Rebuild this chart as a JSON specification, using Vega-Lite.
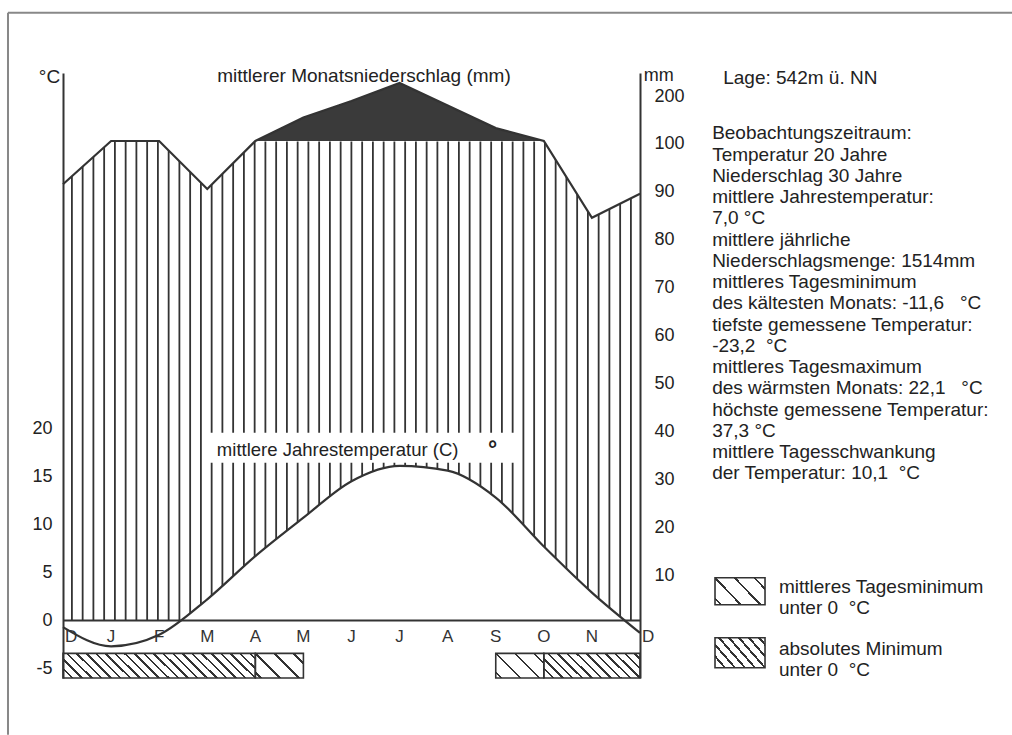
{
  "$schema": "https://vega.github.io/schema/vega-lite/v6.json",
  "width": 577,
  "height": 605,
  "autosize": {"type": "none"},
  "padding": {"left": 63, "top": 73, "right": 372, "bottom": 57},
  "background": "white",
  "config": {
    "view": {"stroke": null},
    "font": "Liberation Sans",
    "text": {"font": "Liberation Sans", "color": "#222", "fontSize": 19}
  },
  "datasets": {
    "klima": [
      {"m": 0, "mon": "D", "t": -0.7, "p": 91},
      {"m": 1, "mon": "J", "t": -2.7, "p": 100},
      {"m": 2, "mon": "F", "t": -1.5, "p": 100},
      {"m": 3, "mon": "M", "t": 2.2, "p": 90},
      {"m": 4, "mon": "A", "t": 6.7, "p": 100},
      {"m": 5, "mon": "M", "t": 10.7, "p": 151},
      {"m": 6, "mon": "J", "t": 14.5, "p": 187},
      {"m": 7, "mon": "J", "t": 16.1, "p": 226},
      {"m": 8, "mon": "A", "t": 15.6, "p": 177},
      {"m": 9, "mon": "S", "t": 12.8, "p": 128},
      {"m": 10, "mon": "O", "t": 7.7, "p": 100},
      {"m": 11, "mon": "N", "t": 2.9, "p": 84},
      {"m": 12, "mon": "D", "t": -1.3, "p": 89}
    ],
    "frostMonate": [
      {"von": 0, "bis": 1, "art": "absolut"},
      {"von": 1, "bis": 2, "art": "absolut"},
      {"von": 2, "bis": 3, "art": "absolut"},
      {"von": 3, "bis": 4, "art": "absolut"},
      {"von": 4, "bis": 5, "art": "mittel"},
      {"von": 9, "bis": 10, "art": "mittel"},
      {"von": 10, "bis": 11, "art": "absolut"},
      {"von": 11, "bis": 12, "art": "absolut"}
    ],
    "frostPerioden": [
      {"von": 0, "bis": 4, "art": "absolut"},
      {"von": 4, "bis": 5, "art": "mittel"},
      {"von": 9, "bis": 10, "art": "mittel"},
      {"von": 10, "bis": 12, "art": "absolut"}
    ]
  },
  "resolve": {"scale": {"y": "independent"}},
  "layer": [
    {
      "layer": [
        {
          "data": {"values": [{}]},
          "mark": {"type": "rule", "strokeWidth": 479, "strokeDash": [1.8, 8.95], "strokeDashOffset": 2.75, "color": "#333"},
          "encoding": {
            "x": {"datum": 0, "type": "quantitative", "scale": {"domain": [0, 12], "nice": false, "zero": false}, "axis": null},
            "x2": {"datum": 12},
            "y": {
              "datum": 24.95, "type": "quantitative",
              "scale": {"domain": [-6, 57.02], "nice": false, "zero": false},
              "axis": {"orient": "left", "values": [-5, 0, 5, 10, 15, 20], "labelExpr": "replace(datum.label, '\u2212', '-')", "ticks": false, "labelPadding": 11, "labelFontSize": 18, "labelColor": "#222", "labelFont": "Liberation Sans", "domainColor": "#333", "domainWidth": 2, "grid": false, "title": null, "zindex": 2, "labelFlush": false}
            }
          }
        },
        {
          "data": {"name": "klima"},
          "mark": {"type": "area", "color": "white", "interpolate": "monotone"},
          "encoding": {
            "x": {"field": "m", "type": "quantitative", "axis": null},
            "y": {"field": "t", "type": "quantitative"},
            "y2": {"datum": 0}
          }
        }
      ]
    },
    {
      "layer": [
        {
          "data": {"name": "klima"},
          "mark": {"type": "area", "color": "white"},
          "encoding": {
            "x": {"field": "m", "type": "quantitative", "axis": null},
            "y": {
              "field": "p", "type": "quantitative",
              "scale": {"domain": [-11.875, 100, 247.8], "range": [605, 68, 0], "nice": false, "zero": false},
              "axis": {"orient": "right", "values": [10, 20, 30, 40, 50, 60, 70, 80, 90, 100, 200], "ticks": false, "labelPadding": 14, "labelOffset": 2, "labelFontSize": 18, "labelColor": "#222", "labelFont": "Liberation Sans", "domainColor": "#333", "domainWidth": 2, "grid": false, "title": null, "zindex": 2, "labelFlush": false}
            },
            "y2": {"datum": 110}
          }
        },
        {
          "data": {"name": "klima"},
          "transform": [{"filter": "datum.m >= 4 && datum.m <= 10"}],
          "mark": {"type": "area", "color": "#3a3a3a"},
          "encoding": {
            "x": {"field": "m", "type": "quantitative", "axis": null},
            "y": {"field": "p", "type": "quantitative"},
            "y2": {"datum": 100}
          }
        },
        {
          "data": {"name": "klima"},
          "mark": {"type": "line", "color": "#333", "strokeWidth": 2.2},
          "encoding": {
            "x": {"field": "m", "type": "quantitative", "axis": null},
            "y": {"field": "p", "type": "quantitative"}
          }
        }
      ]
    },
    {
      "layer": [
        {
          "data": {"values": [{}]},
          "mark": {"type": "rect", "color": "white"},
          "encoding": {
            "x": {"datum": 3.0, "type": "quantitative", "axis": null},
            "x2": {"datum": 9.54},
            "y": {"datum": 19.54, "type": "quantitative", "scale": {"domain": [-6, 57.02], "nice": false, "zero": false}, "axis": null},
            "y2": {"datum": 16.42}
          }
        },
        {
          "data": {"values": [{}]},
          "mark": {"type": "text", "text": "mittlere Jahrestemperatur (C)", "align": "left", "baseline": "alphabetic", "fontSize": 18.5},
          "encoding": {
            "x": {"datum": 3.2, "type": "quantitative", "axis": null},
            "y": {"datum": 17.14, "type": "quantitative", "axis": null}
          }
        },
        {
          "data": {"values": [{}]},
          "mark": {"type": "text", "text": "°", "align": "left", "baseline": "alphabetic", "fontSize": 23, "fontWeight": "bold"},
          "encoding": {
            "x": {"datum": 8.84, "type": "quantitative", "axis": null},
            "y": {"datum": 17.0, "type": "quantitative", "axis": null}
          }
        },
        {
          "data": {"name": "klima"},
          "mark": {"type": "line", "color": "#333", "strokeWidth": 2.2, "interpolate": "monotone"},
          "encoding": {
            "x": {"field": "m", "type": "quantitative", "axis": null},
            "y": {"field": "t", "type": "quantitative", "axis": null}
          }
        },
        {
          "data": {"values": [{}]},
          "mark": {"type": "rule", "color": "#333", "strokeWidth": 2},
          "encoding": {
            "x": {"datum": 0, "type": "quantitative", "axis": null},
            "x2": {"datum": 12},
            "y": {"datum": 0, "type": "quantitative", "axis": null}
          }
        },
        {
          "data": {"name": "frostMonate"},
          "transform": [{"filter": "datum.art == 'absolut'"}],
          "mark": {
            "type": "rect",
            "fill": {
              "gradient": "linear", "x1": 0, "y1": 1, "x2": 1.1965, "y2": 0.3778,
              "stops": [
                {"offset": 0, "color": "#333"}, {"offset": 0.017, "color": "#333"}, {"offset": 0.017, "color": "#fff"},
                {"offset": 0.1146, "color": "#fff"}, {"offset": 0.1146, "color": "#333"}, {"offset": 0.1486, "color": "#333"}, {"offset": 0.1486, "color": "#fff"},
                {"offset": 0.2462, "color": "#fff"}, {"offset": 0.2462, "color": "#333"}, {"offset": 0.2802, "color": "#333"}, {"offset": 0.2802, "color": "#fff"},
                {"offset": 0.3777, "color": "#fff"}, {"offset": 0.3777, "color": "#333"}, {"offset": 0.4117, "color": "#333"}, {"offset": 0.4117, "color": "#fff"},
                {"offset": 0.5093, "color": "#fff"}, {"offset": 0.5093, "color": "#333"}, {"offset": 0.5433, "color": "#333"}, {"offset": 0.5433, "color": "#fff"},
                {"offset": 0.6409, "color": "#fff"}, {"offset": 0.6409, "color": "#333"}, {"offset": 0.6749, "color": "#333"}, {"offset": 0.6749, "color": "#fff"},
                {"offset": 0.7725, "color": "#fff"}, {"offset": 0.7725, "color": "#333"}, {"offset": 0.8065, "color": "#333"}, {"offset": 0.8065, "color": "#fff"},
                {"offset": 0.9041, "color": "#fff"}, {"offset": 0.9041, "color": "#333"}, {"offset": 0.9381, "color": "#333"}, {"offset": 0.9381, "color": "#fff"},
                {"offset": 1, "color": "#fff"}
              ]
            }
          },
          "encoding": {
            "x": {"field": "von", "type": "quantitative", "axis": null},
            "x2": {"field": "bis"},
            "y": {"datum": -6, "type": "quantitative", "axis": null},
            "y2": {"datum": -3.43}
          }
        },
        {
          "data": {"name": "frostMonate"},
          "transform": [{"filter": "datum.art == 'mittel'"}],
          "mark": {
            "type": "rect",
            "fill": {
              "gradient": "linear", "x1": 0, "y1": 1, "x2": 1.1965, "y2": 0.3778,
              "stops": [
                {"offset": 0, "color": "#fff"}, {"offset": 0.063, "color": "#fff"}, {"offset": 0.063, "color": "#333"}, {"offset": 0.097, "color": "#333"}, {"offset": 0.097, "color": "#fff"},
                {"offset": 0.323, "color": "#fff"}, {"offset": 0.323, "color": "#333"}, {"offset": 0.357, "color": "#333"}, {"offset": 0.357, "color": "#fff"},
                {"offset": 0.583, "color": "#fff"}, {"offset": 0.583, "color": "#333"}, {"offset": 0.617, "color": "#333"}, {"offset": 0.617, "color": "#fff"},
                {"offset": 0.843, "color": "#fff"}, {"offset": 0.843, "color": "#333"}, {"offset": 0.877, "color": "#333"}, {"offset": 0.877, "color": "#fff"},
                {"offset": 1, "color": "#fff"}
              ]
            }
          },
          "encoding": {
            "x": {"field": "von", "type": "quantitative", "axis": null},
            "x2": {"field": "bis"},
            "y": {"datum": -6, "type": "quantitative", "axis": null},
            "y2": {"datum": -3.43}
          }
        },
        {
          "data": {"name": "frostPerioden"},
          "mark": {"type": "rect", "filled": false, "stroke": "#333", "strokeWidth": 1.6},
          "encoding": {
            "x": {"field": "von", "type": "quantitative", "axis": null},
            "x2": {"field": "bis"},
            "y": {"datum": -6, "type": "quantitative", "axis": null},
            "y2": {"datum": -3.43}
          }
        },
        {
          "data": {"name": "klima"},
          "transform": [{"filter": "datum.m >= 1 && datum.m <= 11"}],
          "mark": {"type": "text", "align": "center", "baseline": "alphabetic", "fontSize": 17, "color": "#333"},
          "encoding": {
            "x": {"field": "m", "type": "quantitative", "axis": null},
            "y": {"datum": -2.23, "type": "quantitative", "axis": null},
            "text": {"field": "mon"}
          }
        },
        {
          "data": {"name": "klima"},
          "transform": [{"filter": "datum.m == 0 || datum.m == 12"}],
          "mark": {"type": "text", "align": "left", "baseline": "alphabetic", "fontSize": 17, "color": "#333", "dx": 2},
          "encoding": {
            "x": {"field": "m", "type": "quantitative", "axis": null},
            "y": {"datum": -2.23, "type": "quantitative", "axis": null},
            "text": {"field": "mon"}
          }
        },
        {
          "data": {"values": [{}]},
          "mark": {"type": "text", "text": "°C", "align": "right", "baseline": "alphabetic", "fontSize": 19},
          "encoding": {
            "x": {"datum": -0.06, "type": "quantitative", "axis": null},
            "y": {"datum": 56.0, "type": "quantitative", "axis": null}
          }
        },
        {
          "data": {"values": [{}]},
          "mark": {"type": "text", "text": "mittlerer Monatsniederschlag (mm)", "align": "center", "baseline": "alphabetic", "fontSize": 19},
          "encoding": {
            "x": {"datum": 6.26, "type": "quantitative", "axis": null},
            "y": {"datum": 56.1, "type": "quantitative", "axis": null}
          }
        },
        {
          "data": {"values": [{}]},
          "mark": {"type": "text", "text": "mm", "align": "left", "baseline": "alphabetic", "fontSize": 18},
          "encoding": {
            "x": {"datum": 12.08, "type": "quantitative", "axis": null},
            "y": {"datum": 56.2, "type": "quantitative", "axis": null}
          }
        },
        {
          "data": {"values": [{}]},
          "mark": {"type": "text", "text": "Lage: 542m ü. NN", "align": "left", "baseline": "alphabetic", "fontSize": 19},
          "encoding": {
            "x": {"datum": 13.73, "type": "quantitative", "axis": null},
            "y": {"datum": 55.9, "type": "quantitative", "axis": null}
          }
        },
        {
          "data": {"values": [{}]},
          "mark": {
            "type": "text", "align": "left", "baseline": "alphabetic", "fontSize": 19, "lineHeight": 21.25,
            "text": [
              "Beobachtungszeitraum:",
              "Temperatur 20 Jahre",
              "Niederschlag 30 Jahre",
              "mittlere Jahrestemperatur:",
              "7,0 °C",
              "mittlere jährliche",
              "Niederschlagsmenge: 1514mm",
              "mittleres Tagesminimum",
              "des kältesten Monats: -11,6\u00a0\u00a0\u00a0°C",
              "tiefste gemessene Temperatur:",
              "-23,2\u00a0\u00a0°C",
              "mittleres Tagesmaximum",
              "des wärmsten Monats: 22,1\u00a0\u00a0\u00a0°C",
              "höchste gemessene Temperatur:",
              "37,3 °C",
              "mittlere Tagesschwankung",
              "der Temperatur: 10,1\u00a0\u00a0°C"
            ]
          },
          "encoding": {
            "x": {"datum": 13.5, "type": "quantitative", "axis": null},
            "y": {"datum": 50.1, "type": "quantitative", "axis": null}
          }
        },
        {
          "data": {"values": [{}]},
          "mark": {
            "type": "rect", "stroke": "#333", "strokeWidth": 1.6,
            "fill": {
              "gradient": "linear", "x1": 0, "y1": 1, "x2": 1.1965, "y2": 0.3778,
              "stops": [
                {"offset": 0, "color": "#fff"}, {"offset": 0.063, "color": "#fff"}, {"offset": 0.063, "color": "#333"}, {"offset": 0.097, "color": "#333"}, {"offset": 0.097, "color": "#fff"},
                {"offset": 0.323, "color": "#fff"}, {"offset": 0.323, "color": "#333"}, {"offset": 0.357, "color": "#333"}, {"offset": 0.357, "color": "#fff"},
                {"offset": 0.583, "color": "#fff"}, {"offset": 0.583, "color": "#333"}, {"offset": 0.617, "color": "#333"}, {"offset": 0.617, "color": "#fff"},
                {"offset": 0.843, "color": "#fff"}, {"offset": 0.843, "color": "#333"}, {"offset": 0.877, "color": "#333"}, {"offset": 0.877, "color": "#fff"},
                {"offset": 1, "color": "#fff"}
              ]
            }
          },
          "encoding": {
            "x": {"datum": 13.56, "type": "quantitative", "axis": null},
            "x2": {"datum": 14.6},
            "y": {"datum": 4.44, "type": "quantitative", "axis": null},
            "y2": {"datum": 1.63}
          }
        },
        {
          "data": {"values": [{}]},
          "mark": {
            "type": "rect", "stroke": "#333", "strokeWidth": 1.6,
            "fill": {
              "gradient": "linear", "x1": 0, "y1": 1, "x2": 1.1965, "y2": 0.3778,
              "stops": [
                {"offset": 0, "color": "#333"}, {"offset": 0.017, "color": "#333"}, {"offset": 0.017, "color": "#fff"},
                {"offset": 0.1146, "color": "#fff"}, {"offset": 0.1146, "color": "#333"}, {"offset": 0.1486, "color": "#333"}, {"offset": 0.1486, "color": "#fff"},
                {"offset": 0.2462, "color": "#fff"}, {"offset": 0.2462, "color": "#333"}, {"offset": 0.2802, "color": "#333"}, {"offset": 0.2802, "color": "#fff"},
                {"offset": 0.3777, "color": "#fff"}, {"offset": 0.3777, "color": "#333"}, {"offset": 0.4117, "color": "#333"}, {"offset": 0.4117, "color": "#fff"},
                {"offset": 0.5093, "color": "#fff"}, {"offset": 0.5093, "color": "#333"}, {"offset": 0.5433, "color": "#333"}, {"offset": 0.5433, "color": "#fff"},
                {"offset": 0.6409, "color": "#fff"}, {"offset": 0.6409, "color": "#333"}, {"offset": 0.6749, "color": "#333"}, {"offset": 0.6749, "color": "#fff"},
                {"offset": 0.7725, "color": "#fff"}, {"offset": 0.7725, "color": "#333"}, {"offset": 0.8065, "color": "#333"}, {"offset": 0.8065, "color": "#fff"},
                {"offset": 0.9041, "color": "#fff"}, {"offset": 0.9041, "color": "#333"}, {"offset": 0.9381, "color": "#333"}, {"offset": 0.9381, "color": "#fff"},
                {"offset": 1, "color": "#fff"}
              ]
            }
          },
          "encoding": {
            "x": {"datum": 13.56, "type": "quantitative", "axis": null},
            "x2": {"datum": 14.6},
            "y": {"datum": -1.81, "type": "quantitative", "axis": null},
            "y2": {"datum": -4.94}
          }
        },
        {
          "data": {"values": [{}]},
          "mark": {"type": "text", "align": "left", "baseline": "alphabetic", "fontSize": 19, "lineHeight": 21, "text": ["mittleres Tagesminimum", "unter 0\u00a0\u00a0°C"]},
          "encoding": {
            "x": {"datum": 14.89, "type": "quantitative", "axis": null},
            "y": {"datum": 2.81, "type": "quantitative", "axis": null}
          }
        },
        {
          "data": {"values": [{}]},
          "mark": {"type": "text", "align": "left", "baseline": "alphabetic", "fontSize": 19, "lineHeight": 21, "text": ["absolutes Minimum", "unter 0\u00a0\u00a0°C"]},
          "encoding": {
            "x": {"datum": 14.89, "type": "quantitative", "axis": null},
            "y": {"datum": -3.61, "type": "quantitative", "axis": null}
          }
        },
        {
          "data": {"values": [{}]},
          "mark": {"type": "rule", "color": "#888", "strokeWidth": 2},
          "encoding": {
            "x": {"datum": -1.144, "type": "quantitative", "axis": null},
            "x2": {"datum": 19.74},
            "y": {"datum": 63.29, "type": "quantitative", "axis": null}
          }
        },
        {
          "data": {"values": [{}]},
          "mark": {"type": "rule", "color": "#888", "strokeWidth": 2},
          "encoding": {
            "x": {"datum": -1.144, "type": "quantitative", "axis": null},
            "y": {"datum": 63.29, "type": "quantitative", "axis": null},
            "y2": {"datum": -11.92}
          }
        }
      ]
    }
  ]
}
